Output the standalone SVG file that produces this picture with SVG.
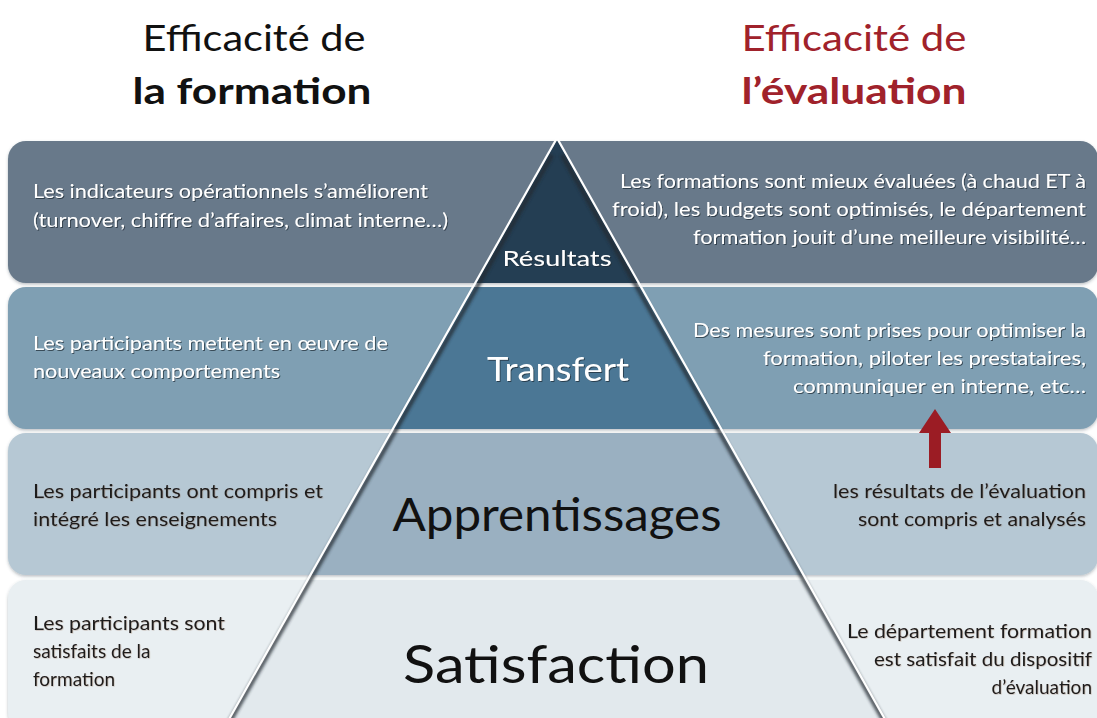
<svg xmlns="http://www.w3.org/2000/svg" width="1097" height="718" viewBox="0 0 1097 718">
<defs>
<filter id="ts" x="-5%" y="-30%" width="110%" height="160%"><feDropShadow dx="1" dy="1" stdDeviation="0.6" flood-color="#1a2630" flood-opacity="0.7"/></filter>
<filter id="tsd" x="-5%" y="-30%" width="110%" height="160%"><feDropShadow dx="0.6" dy="0.6" stdDeviation="0.4" flood-color="#7a5030" flood-opacity="0.35"/></filter>
<filter id="blur" x="-20%" y="-5%" width="140%" height="110%"><feGaussianBlur stdDeviation="1.8"/></filter>
<filter id="bs" x="-2%" y="-5%" width="104%" height="115%"><feDropShadow dx="0" dy="1.5" stdDeviation="1.5" flood-color="#3a4a55" flood-opacity="0.35"/></filter>
</defs>
<style>
text{font-family:Lato,"Liberation Sans",sans-serif}
.t{font-size:19px}
.w{fill:#ffffff;filter:url(#ts)}
.d{fill:#1e1e1e;filter:url(#tsd)}
.e{text-anchor:end}
.m{text-anchor:middle}
.h{font-size:36px}
.b{font-weight:bold}
</style>
<rect width="1097" height="718" fill="#ffffff"/>
<g id="title-formation">
<text class="h m" x="254" y="51" fill="#111111" textLength="223" lengthAdjust="spacingAndGlyphs">Efficacité de</text>
<text class="h m b" x="252" y="104" fill="#111111" textLength="239" lengthAdjust="spacingAndGlyphs">la formation</text>
</g>
<g id="title-evaluation">
<text class="h m" x="854" y="51" fill="#a0222b" textLength="225" lengthAdjust="spacingAndGlyphs">Efficacité de</text>
<text class="h m b" x="854" y="104" fill="#a0222b" textLength="225" lengthAdjust="spacingAndGlyphs">l’évaluation</text>
</g>
<g id="bands" filter="url(#bs)">
<rect x="8" y="141" width="1090" height="142" rx="18" fill="#67798a"/>
<rect x="8" y="287" width="1090" height="142" rx="18" fill="#7f9fb3"/>
<rect x="8" y="433" width="1090" height="142" rx="18" fill="#b6c8d4"/>
<rect x="8" y="580" width="1090" height="150" rx="18" fill="#e9eff2"/>
</g>
<g id="pyramid-fill">
<polygon points="557,140 637.9,283 476.1,283" fill="#243e53"/>
<polygon points="473.8,287 640.2,287 720.6,429 393.4,429" fill="#4b7795"/>
<polygon points="391.2,433 722.8,433 803.2,575 310.8,575" fill="#9ab0c1"/>
<polygon points="308,580 806,580 884.1,718 229.9,718" fill="#e2e9ed"/>
</g>
<g id="pyramid-edges">
<line x1="552" y1="155" x2="225" y2="730" stroke="#222a30" stroke-width="4.5" opacity="0.75" filter="url(#blur)"/>
<line x1="562" y1="155" x2="889" y2="730" stroke="#222a30" stroke-width="4.5" opacity="0.75" filter="url(#blur)"/>
<line x1="557" y1="138" x2="228" y2="721" stroke="#ffffff" stroke-width="2.2"/>
<line x1="557" y1="138" x2="886" y2="721" stroke="#ffffff" stroke-width="2.2"/>
</g>
<g id="level-resultats">
<text class="t w" x="33" y="198" textLength="395" lengthAdjust="spacingAndGlyphs">Les indicateurs opérationnels s’améliorent</text>
<text class="t w" x="33" y="227" textLength="415" lengthAdjust="spacingAndGlyphs">(turnover, chiffre d’affaires, climat interne…)</text>
<text class="w m" x="557" y="266" font-size="22" textLength="109" lengthAdjust="spacingAndGlyphs">Résultats</text>
<text class="t w e" x="1086" y="188" textLength="466" lengthAdjust="spacingAndGlyphs">Les formations sont mieux évaluées (à chaud ET à</text>
<text class="t w e" x="1086" y="216" textLength="474" lengthAdjust="spacingAndGlyphs">froid), les budgets sont optimisés, le département</text>
<text class="t w e" x="1086" y="244" textLength="393" lengthAdjust="spacingAndGlyphs">formation jouit d’une meilleure visibilité…</text>
</g>
<g id="level-transfert">
<text class="t w" x="33" y="350" textLength="355" lengthAdjust="spacingAndGlyphs">Les participants mettent en œuvre de</text>
<text class="t w" x="33" y="378" textLength="247" lengthAdjust="spacingAndGlyphs">nouveaux comportements</text>
<text class="w m" x="558" y="381" font-size="32" textLength="142" lengthAdjust="spacingAndGlyphs">Transfert</text>
<text class="t w e" x="1086" y="337" textLength="393" lengthAdjust="spacingAndGlyphs">Des mesures sont prises pour optimiser la</text>
<text class="t w e" x="1086" y="365" textLength="323" lengthAdjust="spacingAndGlyphs">formation, piloter les prestataires,</text>
<text class="t w e" x="1086" y="393" textLength="293" lengthAdjust="spacingAndGlyphs">communiquer en interne, etc…</text>
</g>
<g id="level-apprentissages">
<text class="t d" x="33" y="498" textLength="290" lengthAdjust="spacingAndGlyphs">Les participants ont compris et</text>
<text class="t d" x="33" y="526" textLength="244" lengthAdjust="spacingAndGlyphs">intégré les enseignements</text>
<text class="m" x="557" y="531" font-size="46" fill="#111111" textLength="329" lengthAdjust="spacingAndGlyphs">Apprentissages</text>
<text class="t d e" x="1086" y="498" textLength="253" lengthAdjust="spacingAndGlyphs">les résultats de l’évaluation</text>
<text class="t d e" x="1086" y="526" textLength="228" lengthAdjust="spacingAndGlyphs">sont compris et analysés</text>
</g>
<g id="level-satisfaction">
<text class="t d" x="33" y="630" textLength="192" lengthAdjust="spacingAndGlyphs">Les participants sont</text>
<text class="t d" x="33" y="658">satisfaits de la</text>
<text class="t d" x="33" y="686">formation</text>
<text class="m" x="556" y="683" font-size="52" fill="#111111" textLength="306" lengthAdjust="spacingAndGlyphs">Satisfaction</text>
<text class="t d e" x="1092" y="638" textLength="245" lengthAdjust="spacingAndGlyphs">Le département formation</text>
<text class="t d e" x="1092" y="666" textLength="218" lengthAdjust="spacingAndGlyphs">est satisfait du dispositif</text>
<text class="t d e" x="1092" y="694">d’évaluation</text>
</g>
<g id="connectors">
<polygon points="929,468 941,468 941,433 951,433 935,409 919,433 929,433" fill="#9b1c24"/>
</g>
</svg>
